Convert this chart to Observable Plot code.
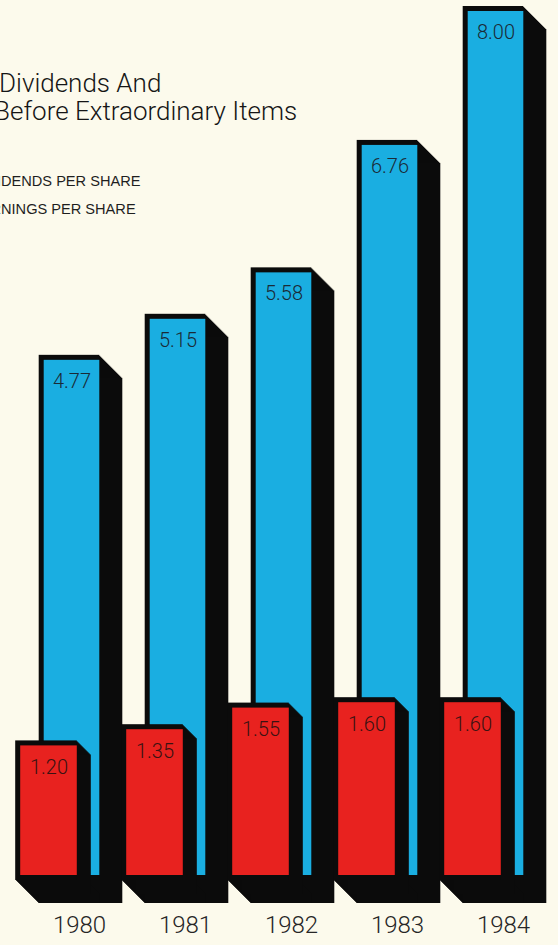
<!DOCTYPE html>
<html><head><meta charset="utf-8">
<script src="https://cdn.jsdelivr.net/npm/d3@7"></script>
<script src="https://cdn.jsdelivr.net/npm/@observablehq/plot@0.6"></script>
<style>
html,body{margin:0;padding:0;background:#fcfaec;}
#wrap{position:relative;width:558px;height:945px;overflow:hidden;background:#fcfaec;}
#chart{position:absolute;left:0;top:0;}
.t{position:absolute;white-space:nowrap;font-family:Roboto,"Liberation Sans",sans-serif;color:#151515;line-height:1;}
.title{font-size:26px;font-weight:300;}
.leg{font-family:"Liberation Sans",Arial,sans-serif;font-size:14.6px;font-weight:400;color:#1e1e1e;}
</style></head><body><div id="wrap">
<div id="chart"></div>
<div class="t title" id="t1">Dividends And</div>
<div class="t title" id="t2"><span class="pre">B</span>efore Extraordinary Items</div>
<div class="t leg" id="l1"><span class="pre">DIVI</span>DENDS PER SHARE</div>
<div class="t leg" id="l2"><span class="pre">EAR</span>NINGS PER SHARE</div>
</div>
<script>
const years = ["1980", "1981", "1982", "1983", "1984"];
const earnings = [4.77, 5.15, 5.58, 6.76, 8.00];
const dividends = [1.20, 1.35, 1.55, 1.60, 1.60];
const earningsLabels = ["4.77", "5.15", "5.58", "6.76", "8.00"];
const dividendsLabels = ["1.20", "1.35", "1.55", "1.60", "1.60"];

const data = years.map((year, i) => ({
  year, earn: earnings[i], div: dividends[i],
  earnLabel: earningsLabels[i], divLabel: dividendsLabels[i]
}));

const BLUE = "#1aaee1", RED = "#e8221f", BLACK = "#0b0b0b";
const W = 558, H = 945;
const ml = 6.3, mr = 19.7, step = (W - ml - mr) / years.length;
const redIL = 13.2, redIR = step - 70.2;
const bluIL = 36.7, bluIR = step - 92.7;
const OUT = 5, blueDepth = 23, redDepth = 14, baseDepth = 23;
const bluC = (bluIL + step - bluIR) / 2 - step / 2;
const redC = (redIL + step - redIR) / 2 - step / 2;

const marks = [];
for (let k = 1; k <= blueDepth; k++)
  marks.push(Plot.barY(data, {x: "year", y: "earn", fill: BLACK, insetLeft: bluIL - OUT, insetRight: bluIR, insetTop: -OUT, insetBottom: -OUT, dx: k, dy: k}));
marks.push(Plot.barY(data, {x: "year", y: "earn", fill: BLACK, insetLeft: bluIL - OUT, insetRight: bluIR, insetTop: -OUT, insetBottom: -OUT}));
marks.push(Plot.barY(data, {x: "year", y: "earn", fill: BLUE, insetLeft: bluIL, insetRight: bluIR}));
for (let k = redDepth + 1; k <= baseDepth; k++)
  marks.push(Plot.barY(data, {x: "year", y1: 0, y2: 0, fill: BLACK, insetLeft: redIL - OUT, insetRight: redIR, insetTop: -OUT, insetBottom: -OUT, dx: k, dy: k}));
for (let k = 1; k <= redDepth; k++)
  marks.push(Plot.barY(data, {x: "year", y: "div", fill: BLACK, insetLeft: redIL - OUT, insetRight: redIR, insetTop: -OUT, insetBottom: -OUT, dx: k, dy: k}));
marks.push(Plot.barY(data, {x: "year", y: "div", fill: BLACK, insetLeft: redIL - OUT, insetRight: redIR, insetTop: -OUT, insetBottom: -OUT}));
marks.push(Plot.barY(data, {x: "year", y: "div", fill: RED, insetLeft: redIL, insetRight: redIR}));
marks.push(Plot.text(data, {x: "year", y: "earn", text: "earnLabel", dx: bluC, dy: 13, lineAnchor: "top", fontSize: 20, fill: "#1a2a36"}));
marks.push(Plot.text(data, {x: "year", y: "div", text: "divLabel", dx: redC, dy: 14, lineAnchor: "top", fontSize: 20, fill: "#3a1212"}));
marks.push(Plot.axisX({tickSize: 0, tickPadding: 40, fontSize: 24, dx: 19, fill: "#262626", label: null}));

const chart = Plot.plot({
  width: W, height: H,
  marginLeft: ml, marginRight: mr, marginTop: 11, marginBottom: 70,
  x: {type: "band", domain: years, padding: 0, axis: null, label: null},
  y: {domain: [0, 8], axis: null},
  style: {background: "transparent", fontFamily: "Roboto, 'Liberation Sans', sans-serif", fontWeight: 300, overflow: "visible"},
  marks
});
document.getElementById("chart").appendChild(chart);

function place(id, visibleLeft, top) {
  const el = document.getElementById(id);
  const pre = el.querySelector(".pre");
  const pw = pre ? pre.getBoundingClientRect().width : 0;
  el.style.left = (visibleLeft - pw) + "px";
  el.style.top = top + "px";
}
place("t1", -1, 70);
place("t2", 10, 98);
place("l1", 1, 174);
place("l2", 1, 202);
</script>
</body></html>
